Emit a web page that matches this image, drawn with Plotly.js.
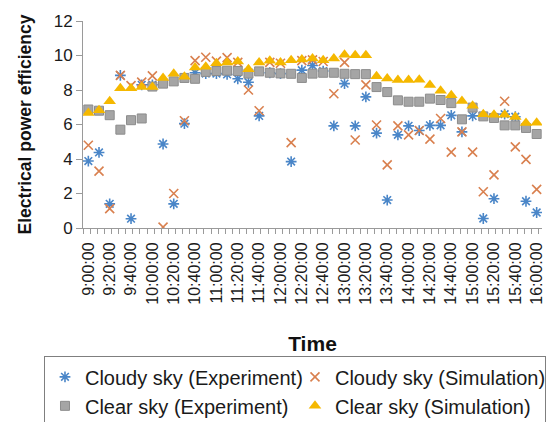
<!DOCTYPE html>
<html>
<head>
<meta charset="utf-8">
<script src="https://cdn.plot.ly/plotly-3.0.1.min.js"></script>
<style>
html,body{margin:0;padding:0;background:#fff;}
#chart{width:548px;height:422px;}
</style>
</head>
<body>
<div id="chart"></div>
<script>
var times = ["9:00:00","9:10:00","9:20:00","9:30:00","9:40:00","9:50:00","10:00:00","10:10:00","10:20:00","10:30:00",
"10:40:00","10:50:00","11:00:00","11:10:00","11:20:00","11:30:00","11:40:00","11:50:00","12:00:00","12:10:00",
"12:20:00","12:30:00","12:40:00","12:50:00","13:00:00","13:10:00","13:20:00","13:30:00","13:40:00","13:50:00",
"14:00:00","14:10:00","14:20:00","14:30:00","14:40:00","14:50:00","15:00:00","15:10:00","15:20:00","15:30:00",
"15:40:00","15:50:00","16:00:00"];

var cloudyExp = [3.88,4.38,1.4,8.85,0.54,8.3,8.3,4.87,1.4,6.05,
9.0,8.95,8.95,8.9,8.65,8.45,6.5,9.0,8.95,3.85,
9.15,9.42,9.1,5.92,8.37,5.92,7.6,5.5,1.62,5.4,
5.92,5.65,5.95,5.95,6.53,5.57,6.5,0.55,1.7,6.6,
6.45,1.55,0.9];

var cloudySim = [4.8,3.3,1.12,8.85,8.25,8.46,8.82,0.05,2.0,6.22,
9.7,9.9,9.67,9.88,9.6,8.0,6.8,9.6,9.55,4.95,
9.7,9.75,9.65,7.78,9.6,5.1,8.3,5.97,3.66,5.92,
5.4,5.65,5.15,6.35,4.4,5.57,4.4,2.1,3.08,7.35,
4.7,3.98,2.24];

var clearExp = [6.87,6.8,6.54,5.7,6.25,6.35,8.2,8.37,8.5,8.7,
8.65,9.05,9.1,9.12,9.1,8.95,9.08,9.0,8.96,8.94,
8.7,8.95,9.0,9.0,8.94,8.92,8.92,8.17,7.88,7.4,
7.32,7.32,7.5,7.42,7.24,6.3,6.98,6.47,6.38,5.95,
5.95,5.8,5.45];

var clearSim = [6.67,6.83,7.35,8.1,8.1,8.17,8.17,8.7,8.94,8.77,
9.3,9.35,9.55,9.6,9.65,9.2,9.6,9.7,9.6,9.72,
9.77,9.83,9.72,9.82,10.05,10.02,10.02,8.8,8.66,8.58,
8.58,8.6,8.29,7.96,7.7,7.36,7.08,6.59,6.57,6.57,
6.43,6.08,6.1];

var seriesNames = ["Cloudy sky (Experiment)","Cloudy sky (Simulation)","Clear sky (Experiment)","Clear sky (Simulation)"];

var day = "2000-01-01 ";
var x = times.map(function(t){ return day + t; });

var FONT = "Liberation Sans, Arial, sans-serif";

var traces = [
  {x:x, y:cloudyExp, name:seriesNames[0], type:"scatter", mode:"markers",
   marker:{symbol:"asterisk-open", size:9, color:"#4a86c8", line:{color:"#4a86c8", width:1.6}}},
  {x:x, y:cloudySim, name:seriesNames[1], type:"scatter", mode:"markers",
   marker:{symbol:"x-thin-open", size:9, color:"#d9804f", line:{color:"#d9804f", width:1.6}}},
  {x:x, y:clearExp, name:seriesNames[2], type:"scatter", mode:"markers",
   marker:{symbol:"square", size:9, color:"#a5a5a5", line:{color:"#8c8c8c", width:1}}},
  {x:x, y:clearSim, name:seriesNames[3], type:"scatter", mode:"markers",
   marker:{symbol:"triangle-up", size:11, color:"#f5b800", line:{width:0}}}
];

var layout = {
  width:548, height:422,
  margin:{l:83, r:6, t:21, b:194, autoexpand:false},
  paper_bgcolor:"#fff", plot_bgcolor:"#fff",
  font:{family:FONT, color:"#1a1a1a"},
  showlegend:true,
  xaxis:{
    type:"date", automargin:false,
    range:[day+"8:55:00", day+"16:05:00"],
    tick0:day+"9:00:00", dtick:1200000,
    tickformat:"%-H:%M:%S",
    tickangle:-90,
    tickfont:{family:FONT, size:16, color:"#1a1a1a"},
    ticks:"outside", ticklen:7, tickcolor:"rgba(0,0,0,0)",
    minor:{tickmode:"linear", tick0:day+"8:55:00", dtick:400000, ticks:"outside", ticklen:5, tickcolor:"#9a9a9a", showgrid:false},
    showline:true, linecolor:"#9a9a9a", linewidth:1,
    showgrid:false, zeroline:false,
    title:{text:"Time", font:{family:FONT, size:21, color:"#111", weight:"bold"}, standoff:32}
  },
  yaxis:{
    automargin:false,
    range:[0,12], dtick:2, tick0:0,
    tickfont:{family:FONT, size:17, color:"#1a1a1a"},
    ticks:"outside", ticklen:6, tickcolor:"#9a9a9a",
    showline:true, linecolor:"#9a9a9a", linewidth:1,
    showgrid:false, zeroline:false,
    title:{text:"Electrical power efficiency", font:{family:FONT, size:17.5, color:"#111", weight:"bold"}, standoff:17}
  },
  legend:{
    orientation:"h",
    x:-0.085, xanchor:"left",
    y:-0.62, yanchor:"top",
    bordercolor:"#7f7f7f", borderwidth:1,
    bgcolor:"#fff",
    font:{family:FONT, size:20, color:"#1a1a1a"},
    entrywidth:205,
    itemwidth:30,
    tracegroupgap:0
  }
};

Plotly.newPlot("chart", traces, layout, {displayModeBar:false, staticPlot:true});
</script>
</body>
</html>
